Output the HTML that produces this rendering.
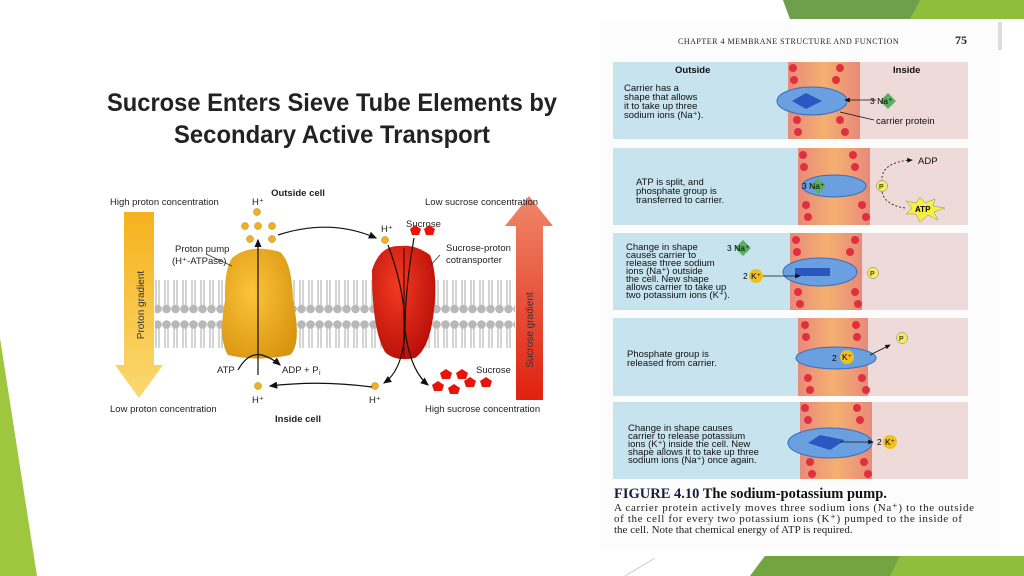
<!DOCTYPE html>
<html><head><meta charset="utf-8"><style>
html,body{margin:0;padding:0;background:#fff;}
svg{display:block;font-family:"Liberation Sans",Arial,sans-serif;}
</style></head><body>
<svg width="1024" height="576" viewBox="0 0 1024 576" xmlns="http://www.w3.org/2000/svg">
<defs>
<linearGradient id="yarr" x1="0" y1="0" x2="0" y2="1"><stop offset="0" stop-color="#f5b21c"/><stop offset="1" stop-color="#fbd870"/></linearGradient>
<linearGradient id="rarr" x1="0" y1="0" x2="0" y2="1"><stop offset="0" stop-color="#f0876a"/><stop offset="1" stop-color="#e02010"/></linearGradient>
<radialGradient id="pump" cx="0.4" cy="0.4" r="0.7"><stop offset="0" stop-color="#fcc43a"/><stop offset="1" stop-color="#d99410"/></radialGradient>
<radialGradient id="red" cx="0.4" cy="0.35" r="0.7"><stop offset="0" stop-color="#f23a22"/><stop offset="1" stop-color="#b80e08"/></radialGradient>
<linearGradient id="mem" x1="0" y1="0" x2="1" y2="0"><stop offset="0" stop-color="#e88a7a"/><stop offset="0.5" stop-color="#f4b070"/><stop offset="1" stop-color="#e88a7a"/></linearGradient>
<marker id="ah" markerWidth="8" markerHeight="8" refX="6" refY="3" orient="auto"><path d="M0,0 L7,3 L0,6 z" fill="#111"/></marker>
<pattern id="heads" width="9" height="80" patternUnits="userSpaceOnUse">
<line x1="3" y1="4" x2="3" y2="34" stroke="#aaa" stroke-width="1"/><line x1="6" y1="4" x2="6" y2="34" stroke="#aaa" stroke-width="1"/>
<line x1="3" y1="40" x2="3" y2="66" stroke="#aaa" stroke-width="1"/><line x1="6" y1="40" x2="6" y2="66" stroke="#aaa" stroke-width="1"/>
<circle cx="4.5" cy="4.5" r="4.3" fill="#b8b8b8"/><circle cx="4.5" cy="69" r="4.3" fill="#b8b8b8"/></pattern>
</defs>
<polygon points="783,0 1024,0 1024,19 790,19" fill="#8fbd3c"/>
<polygon points="783,0 920,0 910,19 790,19" fill="#6e9f4a"/>
<polygon points="765,556 1024,556 1024,576 750,576" fill="#8fbd3c"/>
<polygon points="765,556 900,556 890,576 750,576" fill="#72a540"/>
<polygon points="0,338 37,576 0,576" fill="#9fc63f"/>
<line x1="625" y1="576" x2="655" y2="558" stroke="#ccc" stroke-width="1"/>

<text x="332" y="111" font-size="25" font-weight="bold" text-anchor="middle" fill="#222" textLength="450" lengthAdjust="spacingAndGlyphs">Sucrose Enters Sieve Tube Elements by</text>
<text x="332" y="143" font-size="25" font-weight="bold" text-anchor="middle" fill="#222" textLength="316" lengthAdjust="spacingAndGlyphs">Secondary Active Transport</text>

<rect x="155" y="274" width="360" height="74" fill="url(#heads)"/>
<polygon points="124,212 154,212 154,365 163,365 139,398 115,365 124,365" fill="url(#yarr)"/>
<text transform="translate(144,305) rotate(-90)" font-size="10" text-anchor="middle" fill="#333">Proton gradient</text>
<polygon points="516,400 543,400 543,226 553,226 529,196 505,226 516,226" fill="url(#rarr)"/>
<text transform="translate(533,330) rotate(-90)" font-size="10" text-anchor="middle" fill="#333">Sucrose gradient</text>
<path d="M232,258 Q250,243 280,252 Q292,262 293,300 Q302,345 290,355 Q258,362 228,355 Q218,340 225,300 Q224,270 232,258z" fill="url(#pump)"/>
<line x1="206" y1="254" x2="232" y2="266" stroke="#333" stroke-width="0.8"/>
<path d="M372,270 Q380,245 400,246 Q415,244 430,255 Q438,275 434,310 Q430,348 415,358 Q395,362 385,352 Q372,330 372,270z" fill="url(#red)"/>
<line x1="404" y1="248" x2="404" y2="358" stroke="#7a0806" stroke-width="1.5"/>
<line x1="440" y1="255" x2="430" y2="266" stroke="#333" stroke-width="0.8"/>
<g font-size="9.5" fill="#222">
<text x="298" y="196" font-weight="bold" text-anchor="middle">Outside cell</text>
<text x="298" y="422" font-weight="bold" text-anchor="middle">Inside cell</text>
<text x="110" y="205">High proton concentration</text>
<text x="110" y="412">Low proton concentration</text>
<text x="425" y="205">Low sucrose concentration</text>
<text x="425" y="412">High sucrose concentration</text>
<text x="175" y="252">Proton pump</text>
<text x="172" y="264">(H⁺-ATPase)</text>
<text x="446" y="251">Sucrose-proton</text>
<text x="446" y="263">cotransporter</text>
<text x="406" y="227">Sucrose</text>
<text x="252" y="205">H⁺</text>
<text x="381" y="232">H⁺</text>
<text x="252" y="403">H⁺</text>
<text x="369" y="403">H⁺</text>
<text x="217" y="373">ATP</text>
<text x="282" y="373">ADP + P</text><text x="319" y="375" font-size="7">i</text>
<text x="476" y="373">Sucrose</text>
</g>
<g fill="#f0b020" stroke="#b88010" stroke-width="0.5">
<circle cx="257" cy="212" r="3.5"/><circle cx="245" cy="226" r="3.5"/><circle cx="258" cy="226" r="3.5"/><circle cx="272" cy="226" r="3.5"/>
<circle cx="250" cy="239" r="3.5"/><circle cx="272" cy="239" r="3.5"/><circle cx="385" cy="240" r="3.5"/>
<circle cx="258" cy="386" r="3.5"/><circle cx="375" cy="386" r="3.5"/>
</g>
<g fill="#e8140a">
<polygon points="410,229 415,225 421,229 419,235 412,235"/><polygon points="424,229 429,225 435,229 433,235 426,235"/>
<polygon points="440,373 446,369 452,373 450,379 442,379"/><polygon points="456,373 462,369 468,373 466,379 458,379"/>
<polygon points="464,381 470,377 476,381 474,387 466,387"/><polygon points="480,381 486,377 492,381 490,387 482,387"/>
<polygon points="432,385 438,381 444,385 442,391 434,391"/><polygon points="448,388 454,384 460,388 458,394 450,394"/>
</g>
<g fill="none" stroke="#111" stroke-width="1.2">
<line x1="258" y1="375" x2="258" y2="240" marker-end="url(#ah)"/>
<path d="M278,235 Q330,218 376,238" marker-end="url(#ah)"/>
<path d="M372,387 Q320,380 270,386" marker-end="url(#ah)"/>
<path d="M388,245 Q405,290 405,330 Q403,370 384,383" marker-end="url(#ah)"/>
<path d="M414,238 Q405,290 405,330 Q410,370 428,385" marker-end="url(#ah)"/>
<path d="M238,370 Q248,352 262,355 Q272,358 280,365" marker-end="url(#ah)"/>
</g>

<rect x="600" y="22" width="400" height="528" fill="#fcfcfc"/>
<rect x="998" y="22" width="4" height="28" fill="#ddd"/>
<text x="678" y="44" font-family="Liberation Serif,serif" font-size="8" fill="#222" letter-spacing="0.5">CHAPTER 4  MEMBRANE STRUCTURE AND FUNCTION</text>
<text x="955" y="44" font-family="Liberation Serif,serif" font-size="12" font-weight="bold" fill="#222">75</text>

<rect x="613" y="62" width="355" height="77" fill="#c6e3ee"/><rect x="850" y="62" width="118" height="77" fill="#efdada"/>
<rect x="788" y="62" width="72" height="77" fill="url(#mem)"/>
<rect x="613" y="148" width="355" height="77" fill="#c6e3ee"/><rect x="860" y="148" width="108" height="77" fill="#efdada"/>
<rect x="798" y="148" width="72" height="77" fill="url(#mem)"/>
<rect x="613" y="233" width="355" height="77" fill="#c6e3ee"/><rect x="855" y="233" width="113" height="77" fill="#efdada"/>
<rect x="790" y="233" width="72" height="77" fill="url(#mem)"/>
<rect x="613" y="318" width="355" height="78" fill="#c6e3ee"/><rect x="862" y="318" width="106" height="78" fill="#efdada"/>
<rect x="798" y="318" width="70" height="78" fill="url(#mem)"/>
<rect x="613" y="402" width="355" height="77" fill="#c6e3ee"/><rect x="865" y="402" width="103" height="77" fill="#efdada"/>
<rect x="800" y="402" width="72" height="77" fill="url(#mem)"/>
<g fill="#e03040">
<circle cx="793" cy="68" r="4"/><circle cx="794" cy="80" r="4"/><circle cx="797" cy="120" r="4"/><circle cx="798" cy="132" r="4"/>
<circle cx="840" cy="68" r="4"/><circle cx="836" cy="80" r="4"/><circle cx="840" cy="120" r="4"/><circle cx="845" cy="132" r="4"/>
<circle cx="803" cy="155" r="4"/><circle cx="804" cy="167" r="4"/><circle cx="806" cy="205" r="4"/><circle cx="808" cy="217" r="4"/>
<circle cx="853" cy="155" r="4"/><circle cx="855" cy="167" r="4"/><circle cx="862" cy="205" r="4"/><circle cx="866" cy="217" r="4"/>
<circle cx="796" cy="240" r="4"/><circle cx="797" cy="252" r="4"/><circle cx="798" cy="292" r="4"/><circle cx="800" cy="304" r="4"/>
<circle cx="855" cy="240" r="4"/><circle cx="850" cy="252" r="4"/><circle cx="855" cy="292" r="4"/><circle cx="858" cy="304" r="4"/>
<circle cx="805" cy="325" r="4"/><circle cx="806" cy="337" r="4"/><circle cx="808" cy="378" r="4"/><circle cx="810" cy="390" r="4"/>
<circle cx="856" cy="325" r="4"/><circle cx="857" cy="337" r="4"/><circle cx="862" cy="378" r="4"/><circle cx="866" cy="390" r="4"/>
<circle cx="805" cy="408" r="4"/><circle cx="808" cy="420" r="4"/><circle cx="810" cy="462" r="4"/><circle cx="812" cy="474" r="4"/>
<circle cx="857" cy="408" r="4"/><circle cx="860" cy="420" r="4"/><circle cx="864" cy="462" r="4"/><circle cx="868" cy="474" r="4"/>
</g>
<g fill="#6a9fe0" stroke="#3a6cc0" stroke-width="1">
<ellipse cx="812" cy="101" rx="35" ry="14"/>
<ellipse cx="834" cy="186" rx="32" ry="11"/>
<ellipse cx="820" cy="272" rx="37" ry="14"/>
<ellipse cx="836" cy="358" rx="40" ry="11"/>
<ellipse cx="830" cy="443" rx="42" ry="15"/>
</g>
<g fill="#2a58c0"><polygon points="792,101 806,93 822,101 806,109"/><rect x="795" y="268" width="35" height="8"/><polygon points="808,443 820,435 845,440 830,450"/></g>
<g font-size="9.5" fill="#111">
<text x="675" y="73" font-weight="bold">Outside</text><text x="893" y="73" font-weight="bold">Inside</text>
<text x="624" y="91">Carrier has a</text><text x="624" y="100">shape that allows</text><text x="624" y="109">it to take up three</text><text x="624" y="118">sodium ions (Na⁺).</text>
<text x="876" y="124">carrier protein</text>
<text x="636" y="185">ATP is split, and</text><text x="636" y="194">phosphate group is</text><text x="636" y="203">transferred to carrier.</text>
<text x="626" y="250">Change in shape</text><text x="626" y="258">causes carrier to</text><text x="626" y="266">release three sodium</text><text x="626" y="274">ions (Na⁺) outside</text><text x="626" y="282">the cell. New shape</text><text x="626" y="290">allows carrier to take up</text><text x="626" y="298">two potassium ions (K⁺).</text>
<text x="627" y="357">Phosphate group is</text><text x="627" y="366">released from carrier.</text>
<text x="628" y="431">Change in shape causes</text><text x="628" y="439">carrier to release potassium</text><text x="628" y="447">ions (K⁺) inside the cell. New</text><text x="628" y="455">shape allows it to take up three</text><text x="628" y="463">sodium ions (Na⁺) once again.</text>
<text x="918" y="164">ADP</text>
</g>
<g fill="none" stroke="#111" stroke-width="0.8">
<line x1="876" y1="100" x2="845" y2="100" marker-end="url(#ah)"/>
<line x1="874" y1="120" x2="840" y2="112"/>
<path d="M882,182 Q880,162 912,160" stroke-dasharray="2,2" marker-end="url(#ah)"/>
<path d="M882,192 Q885,205 905,208" stroke-dasharray="2,2"/>
<line x1="763" y1="276" x2="800" y2="276" marker-end="url(#ah)"/>
<line x1="870" y1="355" x2="890" y2="345" marker-end="url(#ah)"/>
<line x1="840" y1="442" x2="873" y2="442" marker-end="url(#ah)"/>
</g>
<g font-size="8.5">
<polygon points="888,93 896,101 888,109 880,101" fill="#5ab060"/><text x="870" y="104">3 Na⁺</text>
<polygon points="818,178 826,186 818,194 810,186" fill="#5ab060"/><text x="802" y="189">3 Na⁺</text>
<polygon points="743,240 751,248 743,256 735,248" fill="#5ab060"/><text x="727" y="251">3 Na⁺</text>
<circle cx="882" cy="186" r="5.5" fill="#f5ea60" stroke="#777" stroke-width="0.5"/><text x="879" y="189" font-size="7">P</text>
<polygon points="920,197 925,203 935,199 933,206 945,208 934,212 938,220 928,215 920,222 916,214 906,214 912,208 906,201 916,203" fill="#f8f040" stroke="#888" stroke-width="0.5"/><text x="915" y="212" font-size="8" font-weight="bold">ATP</text>
<text x="743" y="279">2</text><circle cx="756" cy="276" r="7" fill="#f0c020"/><text x="751" y="279">K⁺</text>
<circle cx="873" cy="273" r="5.5" fill="#f5ea60" stroke="#777" stroke-width="0.5"/><text x="870" y="276" font-size="7">P</text>
<circle cx="902" cy="338" r="5.5" fill="#f5ea60" stroke="#777" stroke-width="0.5"/><text x="899" y="341" font-size="7">P</text>
<text x="832" y="361">2</text><circle cx="847" cy="357" r="7" fill="#f0c020"/><text x="842" y="360">K⁺</text>
<text x="877" y="445">2</text><circle cx="890" cy="442" r="7" fill="#f0c020"/><text x="885" y="445">K⁺</text>
</g>
<text x="614" y="498" font-family="Liberation Serif,serif" font-size="14.5" font-weight="bold" fill="#1a1a40">FIGURE 4.10 <tspan fill="#111">The sodium-potassium pump.</tspan></text>
<g font-family="Liberation Serif,serif" font-size="11" fill="#222">
<text x="614" y="511" textLength="360">A carrier protein actively moves three sodium ions (Na⁺) to the outside</text>
<text x="614" y="522" textLength="348">of the cell for every two potassium ions (K⁺) pumped to the inside of</text>
<text x="614" y="533">the cell. Note that chemical energy of ATP is required.</text>
</g>
</svg>
</body></html>
